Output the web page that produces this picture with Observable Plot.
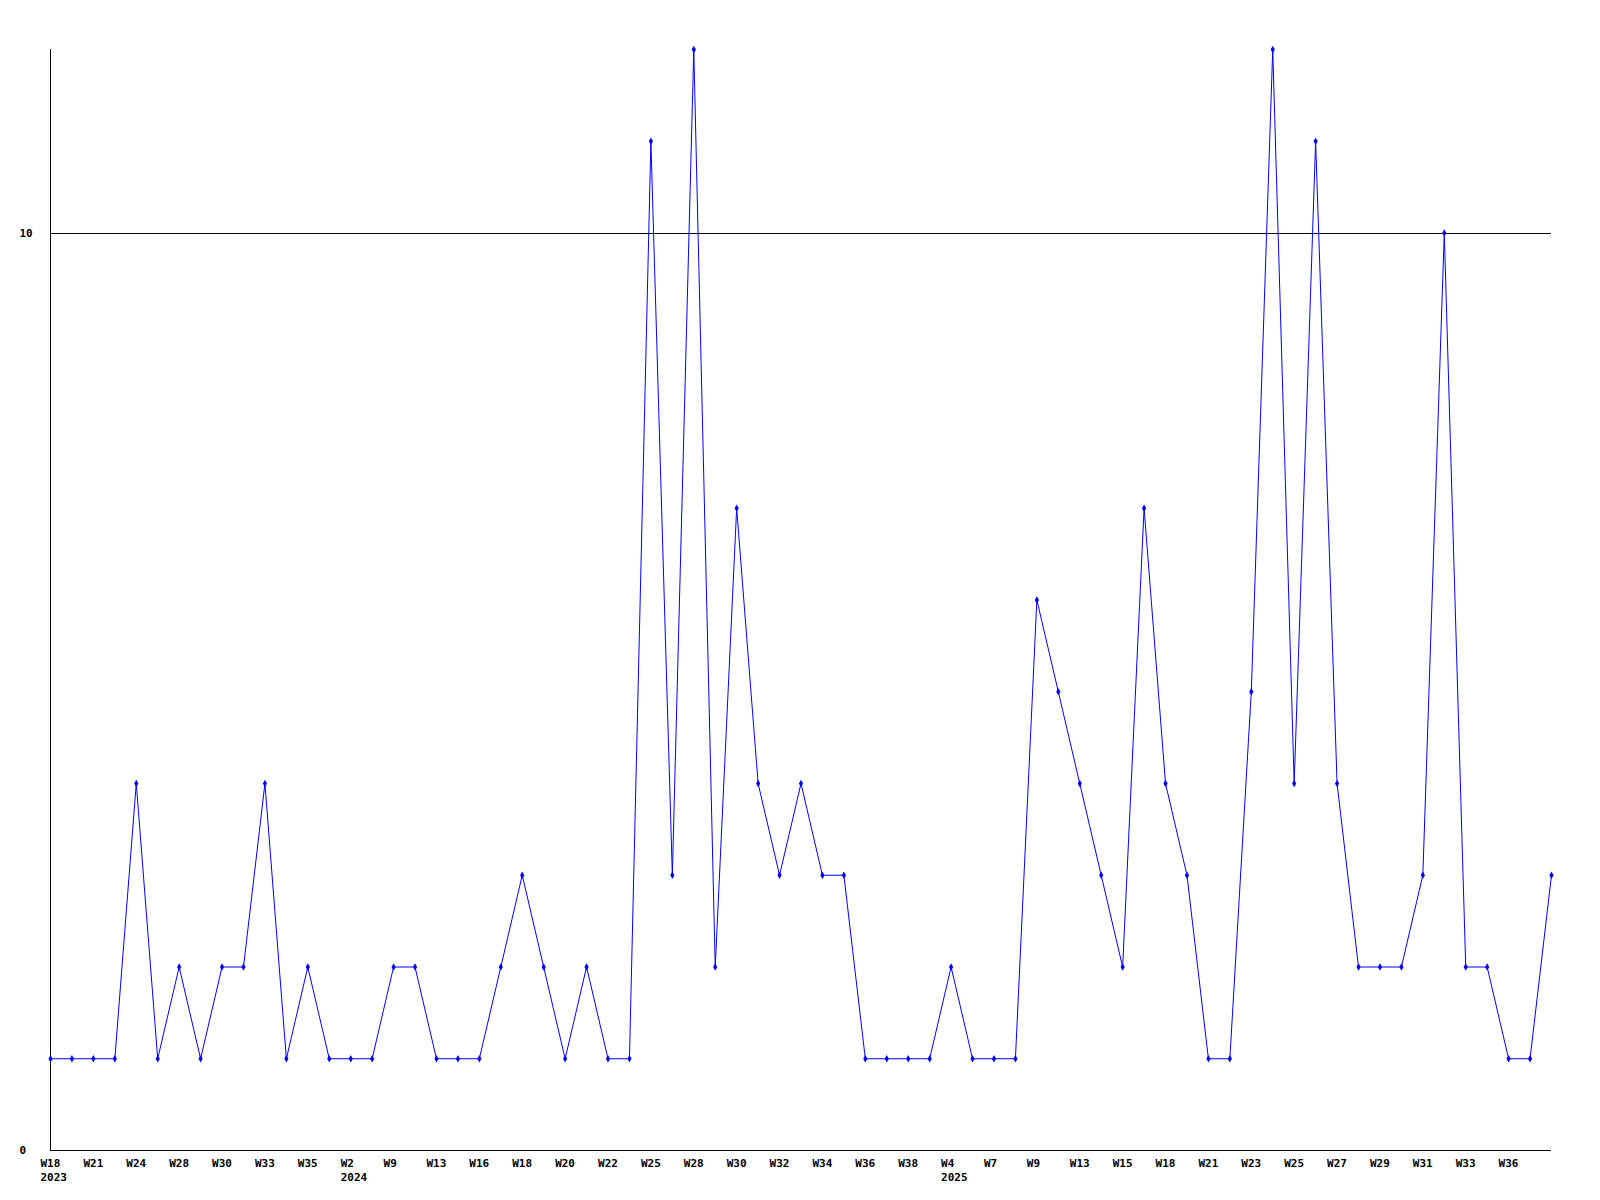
<!DOCTYPE html>
<html>
<head>
<meta charset="utf-8">
<script src="https://cdn.jsdelivr.net/npm/d3@7"></script>
<script src="https://cdn.jsdelivr.net/npm/@observablehq/plot@0.6"></script>
<style>
  html, body { margin: 0; padding: 0; background: white; }
</style>
</head>
<body>
<div id="chart"></div>
<script>
const weeks = [
  "W18","W20","W21","W22","W24","W26","W28","W29","W30","W31",
  "W33","W34","W35","W36","W2","W5","W9","W11","W13","W14",
  "W16","W17","W18","W19","W20","W21","W22","W23","W25","W26",
  "W28","W29","W30","W31","W32","W33","W34","W35","W36","W37",
  "W38","W39","W4","W5","W7","W8","W9","W11","W13","W14",
  "W15","W16","W18","W19","W21","W22","W23","W24","W25","W26",
  "W27","W28","W29","W30","W31","W32","W33","W34","W36","W37",
  "W38"
];
const years = {0: "2023", 14: "2024", 42: "2025"};
const values = [
  1,1,1,1,4,1,2,1,2,2,
  4,1,2,1,1,1,2,2,1,1,
  1,2,3,2,1,2,1,1,11,3,
  12,2,7,4,3,4,3,3,1,1,
  1,1,2,1,1,1,6,5,4,3,
  2,7,4,3,1,1,5,12,4,11,
  4,2,2,2,3,10,2,2,1,1,
  3
];
const yTicks = [0, 10];
const refLine = [10];

const data = values.map((v, i) => ({i, v}));
const tickIdx = d3.range(0, 70, 2);

const chart = Plot.plot({
  width: 1600,
  height: 1200,
  marginLeft: 50,
  marginRight: 49,
  marginTop: 49,
  marginBottom: 50,
  style: {fontFamily: "'DejaVu Sans Mono', monospace", fontSize: "11px", fontWeight: "bold", background: "white", color: "black"},
  x: {type: "linear", domain: [0, 70], axis: null, label: null},
  y: {domain: [0, 12], axis: null, label: null},
  marks: [
    Plot.ruleY(refLine, {stroke: "black", strokeWidth: 1, shapeRendering: "crispEdges"}),
    Plot.ruleY([0], {stroke: "black", strokeWidth: 1, shapeRendering: "crispEdges"}),
    Plot.ruleX([0], {stroke: "black", strokeWidth: 1, shapeRendering: "crispEdges"}),
    Plot.axisX({
      ticks: tickIdx,
      tickSize: 0,
      tickPadding: 6,
      textAnchor: "start",
      dx: -10,
      lineHeight: 1.3,
      fontSize: 11,
      fill: "black",
      label: null,
      tickFormat: i => weeks[i] + (years[i] ? "\n" + years[i] : "")
    }),
    Plot.axisY({
      ticks: yTicks,
      tickSize: 0,
      tickPadding: 31,
      textAnchor: "start",
      fontSize: 11,
      fill: "black",
      label: null,
      tickFormat: d => String(d)
    }),
    Plot.line(data, {x: "i", y: "v", stroke: "blue", strokeWidth: 1}),
    Plot.dot(data, {x: "i", y: "v", symbol: "diamond", r: 2.2, fill: "blue", stroke: "none"})
  ]
});
document.getElementById("chart").appendChild(chart);
</script>
</body>
</html>
